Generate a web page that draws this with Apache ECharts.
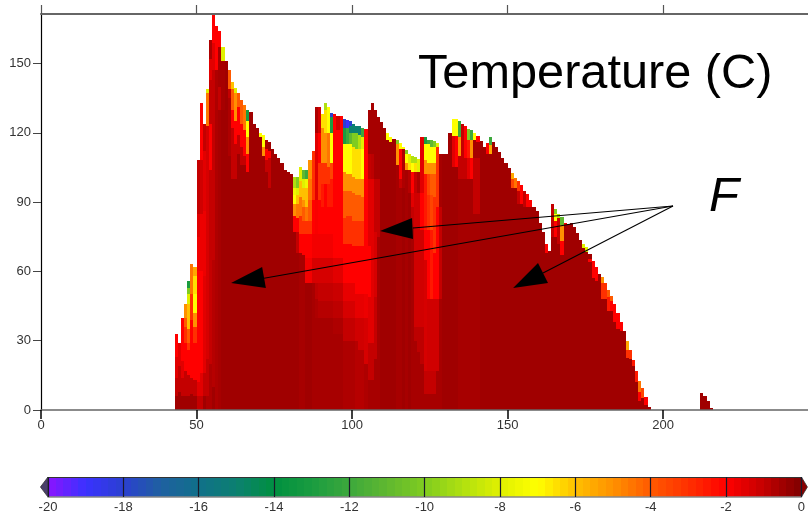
<!DOCTYPE html>
<html><head><meta charset="utf-8">
<style>html,body{margin:0;padding:0;background:#fff}#c{width:808px;height:515px}</style>
<script src="https://cdn.jsdelivr.net/npm/echarts@6/dist/echarts.min.js"></script>
</head><body><div id="c"></div>
<script>
var xTicks = [0, 50, 100, 150, 200];
var yTicks = [0, 30, 60, 90, 120, 150];
var barTicks = [-20, -18, -16, -14, -12, -10, -8, -6, -4, -2, 0];
var colorValues = [-20, -19, -18, -17, -16, -15, -14, -13, -12, -11, -10, -9, -8, -7, -6, -5, -4, -3, -2, -1, -0.5, 0];
var colorHexes = ['#8a14ff','#3a32ff','#2b40d0','#1f60a0','#10708a','#0c8070','#009040','#1a9c40','#3ca83c','#60b830','#80cc20','#b0e010','#e0f000','#ffff00','#ffc000','#ff9000','#ff5a00','#ff3000','#ff0000','#c40000','#a00000','#800000'];
// each row: column x, top height, then temperature, lower boundary, temperature, ... the last temperature reaches 0
var temperatureColumns = [
[43,33,-2,23,-1.5,14,-1,6,-.5],[44,29,-1.5,19,-1,8,-.5],[45,40,-2,21,-1.5,14,-1,6,-.5],
[46,46,-5,40,-4,36,-3,29,-2,17,-1,6,-.5],[47,56,-13,53,-10,50,-8,46,-6,35,-4,29,-3,26,-2,15,-1,6,-.5],
[48,63,-4.5,50,-3,39,-2,14,-1,7,-.5],[49,62,-5.5,58,-6.5,50,-7,42,-5,36,-3,29,-2,13,-1,6,-.5],
[50,108,-1,85,-1.5,75,-1.8,60,-2,12,-1.5,6,-1],[51,133,-2,108,-1.2,85,-1.7,60,-2,16,-1.5,6,-1],[52,124,-1,112,-1.5,86,-1.7,58,-1.5,16,-1,6,-.5],
[53,139,-8,137,-4.5,123,-1.3,22,-1,6,-.7],[54,160,-.7,152,-1.5,143,-1,124,-2,104,-1,20,-.7],[55,171,-2,159,-1.5,147,-1,65,-.8,10,-.5],
[56,166,-2,147,-.7],[57,164,-2,157,-.6,140,-1,130,-.6],[58,157,-8,151,-.6,130,-.5],[59,151,-.5],[60,147,-4,139,-1,135,-.7,110,-.5],
[61,142,-6,139,-4,130,-2,122,-1,100,-.5],[62,139.5,-8,137,-5,125,-2,115,-1,100,-.5],[63,137,-4,131,-2,119,-1,111,-.5],
[64,134,-4,124,-2,114,-1,106,-.5],[65,132,-4.5,121,-2,110,-1,106,-.5],[66,130,-13,125,-7,118,-5,111,-2,103,-.5],
[67,129,-.5],[68,124,-.5],[69,122,-.5],[70,120,-7,118,-.5],[71,119,-7,114,-5,110,-.5],[72,117,-.6,113,-2,108,-1,103,-.5],
[73,116,-.5,112,-2,109,-1,96,-.5],[74,113,-.5],[75,111,-.5],[76,109,-.5],[77,107,-.5],[78,104,-.5],[79,103,-.5],[80,102,-.5],
[81,101,-9,96,-7.5,93,-7,89,-5,84,-2,77,-.5],[82,101,-10,96,-8,93,-6,89,-4.5,83,-2,77,-1,68,-.5],
[83,105,-8,99,-6,92,-4.5,84,-3,76,-2,68,-.6],[84,104,-11,100,-8,96,-6,91,-5,88,-4,82,-3,76,-2,67,-.6],
[85,104,-12,100,-7.5,96,-6,88,-4.5,82,-3,76,-2,66,-1.8,55,-.5],[86,108,-5,100,-4.5,91,-4,82,-3,76,-2,66,-1.8,55,-.5],
[87,112,-3,91,-2,76,-1.8,66,-1.3,55,-.6],[88,131,-.7,120,-1.5,91,-1.9,76,-1.8,66,-1.3,55,-.9,48,-.7,40,-.6],[89,131,-1.2,120,-2,107,-3,91,-2,76,-1.8,66,-1.3,55,-1,47,-.8,40,-.6],
[90,128,-6.5,122,-5,107,-3,98,-2.5,88,-2,76,-1.8,66,-1.3,55,-1,47,-.8,40,-.6],[91,133,-9,130,-6.5,120,-5,107,-3,98,-2,76,-1.8,66,-1.3,55,-1,47,-.8,40,-.6],
[92,131,-7,120,-4.5,105,-3,98,-2.5,88,-2,76,-1.8,66,-1.3,55,-1,47,-.8,40,-.6],[93,128.7,-18,127,-13,120,-7,107,-3.5,100,-2.5,88,-2,76,-1.8,66,-1.3,55,-1,47,-.8,40,-.6],
[94,128,-2,66,-1.5,55,-1.1,47,-.9,40,-.7,33,-.6],[95,127.4,-1.2,121,-2,66,-1.5,55,-1.1,47,-.9,40,-.7,33,-.6],[96,127.4,-2,66,-1.5,55,-1.1,47,-.9,40,-.7,33,-.6],
[97,126,-18,122,-13,115,-7,103,-5,95,-4,83,-3,72,-2,55,-1.6,47,-1.3,40,-1,30,-.7],[98,125.5,-19,122,-12,115,-7,102,-5,95,-4,84,-3,72,-2,55,-1.6,47,-1.3,40,-1,30,-.7],
[99,125,-18,123,-15,120,-11,115,-7,102,-5,95,-4,84,-3,72,-2,55,-1.6,47,-1.3,40,-1,30,-.7],[100,124,-15,120,-10,114,-6.5,101,-5,94,-4,82,-3,71,-2,55,-1.6,47,-1.3,40,-1,30,-.7],
[101,123,-15,120,-10,113,-6.5,100,-5,93,-4,82,-3,71,-2,50,-1.6,40,-1.2,30,-.8],[102,123,-15,119,-9,113,-6.5,100,-5,93,-4,82,-3,71,-2,50,-1.6,40,-1.2,26,-.8],
[103,122,-12,118,-8,113,-7,100,-5,92,-4,82,-3,71,-2,50,-1.6,40,-1.2,26,-.8],[104,121.5,-2,50,-1.7,40,-1.3,20,-.7],
[105,130,-.6,111,-1,100,-1.5,71,-2,49,-1.5,29,-1,13,-.6],[106,133,-.6,111,-.9,100,-1.5,29,-1,13,-.6],[107,130,-.6,100,-1,77,-1.3,49,-1,22,-.6],
[108,127,-.6,100,-1,75,-.6],[109,124.5,-.5],[110,122,-.5],[111,120,-7,117,-.5],[112,118,-7,116,-.5],[113,117.5,-.5],
[114,117,-10,115,-5,106,-.6],[115,115.5,-7,113,-2,100,-1,96,-.6],[116,114,-7,113,-.7,96,-.5],[117,112.5,-10,111,-7,107,-5,104,-.6],
[118,111,-8,107,-6.5,104,-.8,94,-.5],[119,110,-9,107,-7,103,-2,94,-1.5,88,-1,79,-.6],[120,109.7,-9,107,-6.5,103,-1,94,-1.2,36,-.9,30,-.6],
[121,108.5,-8,103,-.7,94,-1.2,36,-.9,25,-.6],[122,118,-1.5,94,-2,78,-1.2,36,-.9,20,-.6],[123,118,-13,115,-7,108,-5,102,-2.5,78,-2,65,-1.3,17,-1,7,-.6],
[124,117,-12,115,-7,107,-5,102,-3.5,93,-3,78,-2,48,-1.2,17,-1,7,-.6],[125,117,-11,114,-7,107,-5,102,-4,93,-3.5,78,-2.5,48,-1.2,17,-1,7,-.6],
[126,116.4,-10,114,-7,107,-5,102,-4,92,-3,68,-2,48,-1.2,17,-1,7,-.6],[127,115.4,-8,114,-3,88,-2,48,-1.2,17,-.6],[128,111,-.6,88,-1,48,-.6],
[129,110.8,-.5],[130,110.8,-.5],[131,120,-.5],[132,126,-7,118.6,-1.5,105,-.5],[133,126,-7,118.6,-2,105,-.5],[134,125,-12,118,-5,110,-1,100,-.6],
[135,124,-1,100,-.6],[136,123,-2,109,-1,100,-.6],[137,121.5,-10,117,-2.5,109,-1.5,100,-.6],[138,121,-12,117,-5,109,-2,100,-.6],
[139,120,-7,117,-.6,109,-1,85,-.6],[140,118.5,-2,116,-.6,109,-1,85,-.6],[141,116.5,-.5],[142,114,-.5],[143,115.5,-2,111,-.5],[144,118,-12,114.5,-5.5,111,-.5],
[145,116,-.5],[146,114,-.5],[147,111.5,-.5],[148,109,-.5],[149,107,-.5],[150,104.6,-.5],[151,102.5,-5.5,100,-3.5,96,-.5],[152,100.6,-4.5,96,-.5],
[153,99,-3,95,-1,89,-.5],[154,97.4,-2,89,-.5],[155,95,-1,88,-.5],[156,93.5,-2,88,-.5],[157,91,-2,88,-.5],[158,88,-.5],[159,86,-.5],[160,81,-.5],[161,77,-.5],
[162,72,-2,68,-.5],[163,69,-.5],[164,89,-1,75,-.5],[165,87,-10,85,-7,82,-2,75,-.5],[166,84.7,-9,83,-1,72,-.5],[167,83.7,-11,80,-5,73,-2,67,-.5],[168,81,-2,80,-.5],
[169,80.4,-.5],[170,81,-.5],[171,79.4,-.5],[172,76.5,-.5],[173,73.6,-.5],[174,71.7,-8,70,-.5],[175,70.4,-8,68.5,-.5],[176,67.4,-.5,65.5,-2,64,-.5],
[177,64.5,-2,57,-.5],[178,62,-2,56,-.5],[179,58.7,-.5],[180,57.7,-5,55,-3,48,-.5],[181,55,-3,48,-.5],[182,52,-4,49,-2.5,43,-.5],[183,49.4,-4,47,-2,43,-.5],
[184,45.7,-2,38,-.5],[185,41.8,-2,35,-.5],[186,38,-2,34,-.5],[187,34,-.5],[188,30,-5.5,26,-3,22.5,-.5],[189,26,-3,22,-.5],[190,21.6,-2.5,19,-.5],
[191,17,-2.5,12,-.5],[192,12.5,-4.5,8,-2,4,-.5],[193,9.7,-3.5,5,-.5],[194,5.5,-2,2,-.5],[195,1.4,-.5],
[212,7.2,-.5],[213,6,-.5],[214,4,-.5],[215,.7,-.5]
];
// arrows: tail, neck of the head, head tip, two back corners (data coordinates)
var arrowTail = [203.2, 88.3];
var arrowNecks = [[119.6, 78.8], [71.7, 57], [161.4, 59.3]];
var arrowHeads = [
  [[109, 77.5], [119.3, 83.1], [119.6, 74]],
  [[61.1, 55], [71.1, 61.9], [72.3, 52.8]],
  [[151.8, 52.8], [159.8, 63.6], [163, 55]]
];

function hex(c) { return [1, 3, 5].map(function (i) { return parseInt(c.substr(i, 2), 16); }); }
function colorOf(t) {
  for (var i = 1; i < colorValues.length; i++) {
    if (t <= colorValues[i]) {
      var f = (t - colorValues[i - 1]) / (colorValues[i] - colorValues[i - 1]);
      var a = hex(colorHexes[i - 1]), b = hex(colorHexes[i]);
      return 'rgb(' + a.map(function (v, k) { return Math.round(v + (b[k] - v) * f); }).join(',') + ')';
    }
  }
  return colorHexes[colorHexes.length - 1];
}

var cells = [];
temperatureColumns.forEach(function (row) {
  var x = row[0], upper = row[1];
  for (var i = 2; i < row.length; i += 2) {
    var lower = i + 1 < row.length ? row[i + 1] : 0;
    cells.push([x, lower, upper, row[i]]);
    upper = lower;
  }
});
var barCells = [];
for (var s = 0; s < 100; s++) barCells.push([-20 + s * 0.2, -20 + (s + 1) * 0.2, -19.9 + s * 0.2]);

var labelStyle = { color: '#333', fontSize: 13, fontFamily: '"Liberation Sans", Arial, sans-serif' };
var xMax = 246.6, yMax = 171.4;

var chart = echarts.init(document.getElementById('c'), null, { renderer: 'canvas' });
chart.setOption({
  animation: false,
  backgroundColor: '#fff',
  grid: [
    { left: 41, top: 14, width: 767, height: 396 },
    { left: 48, top: 477, width: 754, height: 20 }
  ],
  xAxis: [
    { type: 'value', gridIndex: 0, position: 'bottom', z: 5, min: 0, max: xMax, splitLine: { show: false },
      axisLine: { show: true, onZero: false, lineStyle: { color: '#666', width: 1.5 } },
      axisTick: { show: true, inside: false, length: 9, customValues: xTicks, lineStyle: { color: '#000', width: 1.5 } },
      axisLabel: Object.assign({ margin: 9, customValues: xTicks }, labelStyle) },
    { type: 'value', gridIndex: 0, position: 'top', z: 5, min: 0, max: xMax, splitLine: { show: false },
      axisLine: { show: true, onZero: false, lineStyle: { color: '#666', width: 2 } },
      axisTick: { show: true, length: 9, customValues: xTicks, lineStyle: { color: '#555', width: 1.2 } },
      axisLabel: { show: false } },
    { type: 'value', gridIndex: 1, position: 'bottom', z: 5, min: -20, max: 0, interval: 2, splitLine: { show: false },
      axisLine: { show: true, onZero: false, lineStyle: { color: '#888', width: 1.5 } },
      axisTick: { show: true, inside: true, length: 20, lineStyle: { color: '#1a1a2a', width: 1.2 } },
      axisLabel: Object.assign({ margin: 4, customValues: barTicks }, labelStyle) },
    { type: 'value', gridIndex: 1, position: 'top', z: 5, min: -20, max: 0, splitLine: { show: false },
      axisLine: { show: true, onZero: false, lineStyle: { color: '#333', width: 1.2 } },
      axisTick: { show: false }, axisLabel: { show: false } }
  ],
  yAxis: [
    { type: 'value', gridIndex: 0, z: 5, min: 0, max: yMax, splitLine: { show: false },
      axisLine: { show: true, onZero: false, lineStyle: { color: '#000', width: 1.2 } },
      axisTick: { show: true, length: 8, customValues: yTicks, lineStyle: { color: '#444', width: 1 } },
      axisLabel: Object.assign({ margin: 10, customValues: yTicks }, labelStyle) },
    { type: 'value', gridIndex: 1, min: 0, max: 1, show: false }
  ],
  series: [
    { type: 'custom', xAxisIndex: 0, yAxisIndex: 0, silent: true, clip: true, data: cells, encode: { x: 0, y: [1, 2] },
      renderItem: function (p, api) {
        var a = api.coord([api.value(0), api.value(2)]);
        var b = api.coord([api.value(0) + 1, api.value(1)]);
        var x0 = Math.round(a[0]), x1 = Math.round(b[0]), y0 = Math.round(a[1]), y1 = Math.round(b[1]);
        return { type: 'rect', shape: { x: x0, y: y0, width: x1 - x0, height: y1 - y0 },
          style: { fill: colorOf(api.value(3)) } };
      } },
    { type: 'custom', xAxisIndex: 2, yAxisIndex: 1, silent: true, clip: false, data: barCells, encode: { x: [0, 1] },
      renderItem: function (p, api) {
        var a = api.coord([api.value(0), 1]);
        var b = api.coord([api.value(1), 0]);
        var x0 = Math.round(a[0]), x1 = Math.round(b[0]);
        return { type: 'rect', shape: { x: x0, y: a[1], width: x1 - x0, height: b[1] - a[1] },
          style: { fill: colorOf(api.value(2)) } };
      } },
    { type: 'custom', xAxisIndex: 2, yAxisIndex: 1, silent: true, clip: false, data: [[-20.2, -20, '#4a3f6a'], [0.16, 0, '#8a0000']], encode: { x: 0 },
      renderItem: function (p, api) {
        var tip = api.coord([api.value(0), 0.5]);
        var top = api.coord([api.value(1), 1]);
        var bot = api.coord([api.value(1), 0]);
        return { type: 'polygon', shape: { points: [tip, top, bot] },
          style: { fill: api.value(2), stroke: '#333', lineWidth: 0.8 } };
      } },
    { type: 'custom', xAxisIndex: 0, yAxisIndex: 0, silent: true, clip: false, z: 10, data: arrowNecks.map(function (n, i) { return [i, n[0], n[1]]; }), encode: { x: 1, y: 2 },
      renderItem: function (p, api) {
        var i = api.value(0);
        var t = api.coord(arrowTail), n = api.coord(arrowNecks[i]);
        return { type: 'group', children: [
          { type: 'line', shape: { x1: t[0], y1: t[1], x2: n[0], y2: n[1] }, style: { stroke: '#000', lineWidth: 1.1 } },
          { type: 'polygon', shape: { points: arrowHeads[i].map(function (q) { return api.coord(q); }) }, style: { fill: '#000' } }
        ] };
      } }
  ],
  graphic: [
    { type: 'text', left: 418, top: 50, z: 20, style: { text: 'Temperature (C)', fill: '#000', font: '48.7px "Liberation Sans", Arial, sans-serif' } },
    { type: 'text', left: 709, top: 173, z: 20, style: { text: 'F', fill: '#000', font: 'italic 49px "Liberation Sans", Arial, sans-serif' } }
  ]
});
</script></body></html>
